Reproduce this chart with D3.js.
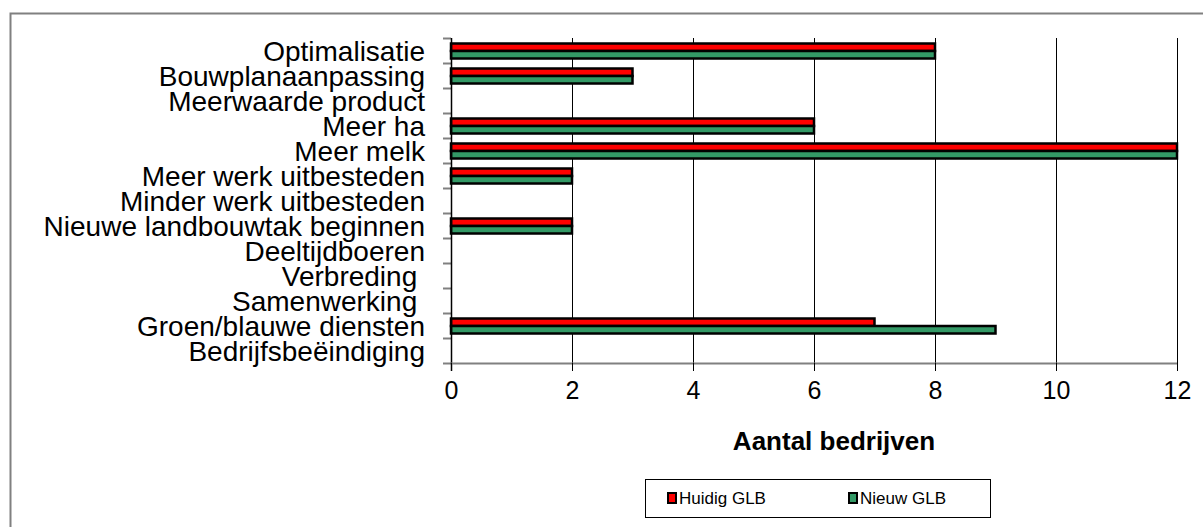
<!DOCTYPE html>
<html>
<head>
<meta charset="utf-8">
<script src="https://cdn.jsdelivr.net/npm/d3@7"></script>
<style>
  body { margin: 0; background: #fff; }
  svg { font-family: "Liberation Sans", Arial, sans-serif; }
</style>
</head>
<body>
<div id="chart"></div>
<script>
    // categories top to bottom
    var categories = ["Optimalisatie", "Bouwplanaanpassing", "Meerwaarde product", "Meer ha",
        "Meer melk", "Meer werk uitbesteden", "Minder werk uitbesteden", "Nieuwe landbouwtak beginnen",
        "Deeltijdboeren", "Verbreding ", "Samenwerking ", "Groen/blauwe diensten", "Bedrijfsbeëindiging"]
    var huidig = [8, 3, 0, 6, 12, 2, 0, 2, 0, 0, 0, 7, 0]
    var nieuw = [8, 3, 0, 6, 12, 2, 0, 2, 0, 0, 0, 9, 0]
    var seriesNames = ["Huidig GLB", "Nieuw GLB"]
    var xTicks = [0, 2, 4, 6, 8, 10, 12]

    var width = 1203, height = 527
    var plotLeft = 451, plotRight = 1177, plotTop = 38, plotBottom = 363

    var svg = d3.select("#chart").append("svg")
        .attr("width", width)
        .attr("height", height)

    // outer frame (only top and left visible in the picture)
    svg.append("rect")
        .attr("x", 10.5).attr("y", 13.5)
        .attr("width", 1200).attr("height", 520)
        .attr("fill", "none")
        .attr("stroke", "#808080")
        .attr("stroke-width", 2)

    var x = d3.scaleLinear().domain([0, 12]).range([plotLeft, plotRight])
    var y = d3.scaleBand().domain(categories).range([plotTop, plotBottom])
    var sub = d3.scaleBand().domain(seriesNames).range([5.5, 20.5])
    var colors = {"Huidig GLB": "#ff0000", "Nieuw GLB": "#339966"}

    // vertical gridlines
    svg.append("g").selectAll("line")
        .data(xTicks.slice(1))
        .join("line")
            .attr("x1", d => Math.round(x(d)) + 0.5)
            .attr("x2", d => Math.round(x(d)) + 0.5)
            .attr("y1", plotTop)
            .attr("y2", plotBottom)
            .attr("stroke", "#000")
            .attr("stroke-width", 1)

    var rows = categories.map((c, i) => ({cat: c, values: [huidig[i], nieuw[i]]}))

    var groups = svg.append("g").selectAll("g")
        .data(rows)
        .join("g")
            .attr("transform", d => `translate(0,${y(d.cat)})`)

    groups.selectAll("rect")
        .data(d => d.values.map((v, j) => ({name: seriesNames[j], value: v})).filter(d => d.value > 0))
        .join("rect")
            .attr("x", x(0))
            .attr("y", d => sub(d.name))
            .attr("width", d => x(d.value) - x(0))
            .attr("height", sub.bandwidth())
            .attr("fill", d => colors[d.name])
            .attr("stroke", "#000")
            .attr("stroke-width", 2.5)

    // y axis
    var yAxis = svg.append("g")
        .attr("transform", `translate(${plotLeft},0)`)
        .call(d3.axisLeft(y).tickSize(0).tickPadding(26))
    yAxis.select(".domain").remove()
    yAxis.selectAll("text")
        .attr("font-size", 28)
        .attr("font-family", "Liberation Sans, Arial, sans-serif")
        .attr("fill", "#000")
        .attr("dy", "0.36em")
        .style("white-space", "pre")
    // y tick marks at band boundaries
    svg.append("g").selectAll("line")
        .data(d3.range(categories.length + 1))
        .join("line")
            .attr("x1", plotLeft - 8)
            .attr("x2", plotLeft)
            .attr("y1", i => plotTop + i * y.step() + 0.5)
            .attr("y2", i => plotTop + i * y.step() + 0.5)
            .attr("stroke", "#808080")
            .attr("stroke-width", 2)
    svg.append("line")
        .attr("x1", plotLeft + 0.5).attr("x2", plotLeft + 0.5)
        .attr("y1", plotTop).attr("y2", plotBottom + 8)
        .attr("stroke", "#000")
        .attr("stroke-width", 1.5)

    // x axis
    var xAxis = svg.append("g")
        .attr("transform", `translate(0,${plotBottom})`)
        .call(d3.axisBottom(x).tickValues(xTicks).tickSize(8).tickPadding(10))
    xAxis.select(".domain")
        .attr("d", `M${plotLeft},0.5H${plotRight}`)
        .attr("stroke", "#808080")
        .attr("stroke-width", 2)
    xAxis.selectAll(".tick line").attr("stroke", "#000")
    xAxis.selectAll("text")
        .attr("font-size", 25)
        .attr("font-family", "Liberation Sans, Arial, sans-serif")
        .attr("fill", "#000")

    svg.append("text")
        .attr("x", 834)
        .attr("y", 450)
        .attr("text-anchor", "middle")
        .attr("font-size", 26)
        .attr("font-weight", "bold")
        .text("Aantal bedrijven")

    // legend
    var legend = svg.append("g")
    legend.append("rect")
        .attr("x", 645.5).attr("y", 479.5)
        .attr("width", 345).attr("height", 38)
        .attr("fill", "#fff")
        .attr("stroke", "#000")
        .attr("stroke-width", 1)
    var items = legend.selectAll("g.item")
        .data(seriesNames)
        .join("g")
            .attr("class", "item")
            .attr("transform", (d, i) => `translate(${[668, 849][i]},498)`)
    items.append("rect")
        .attr("x", 0).attr("y", -5)
        .attr("width", 8).attr("height", 10)
        .attr("fill", d => colors[d])
        .attr("stroke", "#000")
        .attr("stroke-width", 2)
    items.append("text")
        .attr("x", 11)
        .attr("dy", "0.35em")
        .attr("font-size", 17)
        .text(d => d)
</script>
</body>
</html>
